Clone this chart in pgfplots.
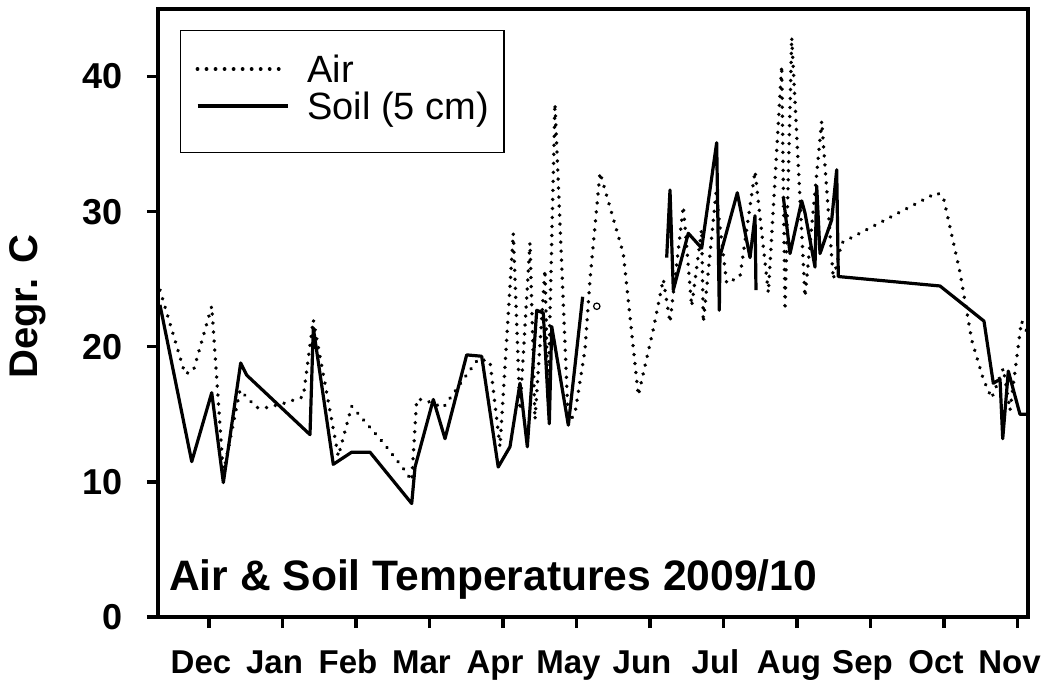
\documentclass[border=0pt]{standalone}
\usepackage{fontspec}
\setmainfont{Liberation Sans}
\usepackage{pgfplots}
\pgfplotsset{compat=1.18}
\begin{document}
\begin{tikzpicture}
\path[use as bounding box] (-79pt,-32.5pt) rectangle (444.5pt,308.5pt);
\begin{axis}[
 at={(0pt,0pt)}, anchor=south west,
 scale only axis, width=435pt, height=304pt,
 xmin=0.306, xmax=12.143, ymin=0, ymax=45,
 axis line style={line width=2.2pt},
 tick style={line width=1.6pt, black},
 tick align=outside, major tick length=5.5pt,
 xtick pos=bottom, ytick pos=left,
 xtick={1,...,12},
 xticklabels={Dec,Jan,Feb,Mar,Apr,May,Jun,Jul,Aug,Sep,Oct,Nov},
 ytick={0,10,20,30,40},
 /pgf/number format/assume math mode=true,
 xticklabel style={font=\fontsize{16.5}{18}\selectfont\bfseries, text height=11.8pt, text depth=3.5pt, xshift=-4pt, yshift=-7.5pt},
 yticklabel style={font=\fontsize{18}{20}\selectfont\bfseries, xshift=-8.5pt},
 ylabel={Degr. C},
 ylabel style={font=\fontsize{20}{22}\selectfont\bfseries, at={(axis description cs:-0.1494,0.51)}, anchor=center},
 unbounded coords=jump,
 legend style={at={(axis description cs:0.0253,0.9655)}, anchor=north west, draw=black, line width=0.6pt,
   font=\fontsize{19}{21}\selectfont, inner xsep=7.5pt, inner ysep=12.5pt, row sep=1pt,
   nodes={inner sep=0pt, text height=13.5pt, text depth=4pt},
   /tikz/every odd column/.style={column sep=9pt}},
 legend cell align=left,
 legend image code/.code={\draw[#1] (0pt,2pt) -- (45pt,2pt);},
]
\addplot[black, line width=1.9pt, line cap=round, dash pattern=on 0.01pt off 4.5pt] coordinates {
(0.333,24.2)(0.673,18.0)(0.786,18.2)(1.037,23.0)(1.195,10.6)(1.422,16.8)(1.649,15.5)(1.785,15.5)(2.011,15.8)(2.283,16.3)(2.419,22.0)(2.759,11.9)(2.941,15.6)(3.371,12.9)(3.643,11.0)(3.758,10.1)(3.826,16.1)(3.916,16.1)(4.188,15.5)(4.528,18.1)(4.664,19.1)(4.823,18.9)(4.959,12.6)(5.140,28.4)(5.231,15.3)(5.367,27.7)(5.435,14.6)(5.571,25.7)(5.612,16.1)(5.707,38.0)(5.889,14.3)(5.980,15.1)(6.116,19.8)(6.184,25.0)(6.320,32.9)(6.637,26.9)(6.841,16.4)(7.045,21.3)(7.181,25.0)(7.272,21.8)(7.453,30.4)(7.567,23.0)(7.703,28.7)(7.725,21.8)(7.898,31.4)(8.043,24.7)(8.224,25.2)(8.429,33.0)(8.610,24.0)(8.792,40.8)(8.837,22.7)(8.928,42.9)(9.109,23.7)(9.336,36.7)(9.494,25.0)(9.608,27.7)(10.901,31.4)(10.990,31.1)(11.218,25.5)(11.377,20.5)(11.535,17.6)(11.648,16.2)(11.807,18.4)(11.898,15.3)(12.054,21.9)(12.129,21.1)
};
\addlegendentry{Air}
\addplot[black, line width=1.6pt, line join=round] coordinates {
(0.333,23.1)(0.765,11.5)(1.037,16.6)(1.195,9.95)(1.431,18.8)(1.513,17.9)(2.374,13.5)(2.419,21.4)(2.691,11.3)(2.941,12.2)(3.190,12.2)(3.758,8.4)(3.803,11.1)(4.052,16.1)(4.211,13.2)(4.506,19.4)(4.710,19.3)(4.935,11.1)(5.095,12.6)(5.231,17.3)(5.331,12.6)(5.459,22.7)(5.548,22.5)(5.630,14.3)(5.663,21.5)(5.889,14.2)(6.084,23.7)(6.5,nan)(7.227,26.6)(7.272,31.6)(7.317,24.2)(7.521,28.4)(7.703,27.3)(7.907,35.1)(7.943,22.7)(7.952,26.7)(8.188,31.4)(8.361,26.6)(8.429,29.7)(8.442,24.2)(8.6,nan)(8.814,31.1)(8.905,26.9)(9.064,30.8)(9.109,29.9)(9.245,25.9)(9.268,31.9)(9.313,26.9)(9.472,29.4)(9.540,33.1)(9.562,25.2)(10.946,24.5)(11.544,21.9)(11.671,17.3)(11.762,17.6)(11.799,13.2)(11.875,18.2)(12.034,15.0)(12.129,15.0)
};
\addlegendentry{Soil (5 cm)}
\addplot[black, only marks, mark=o, mark size=1.6pt, mark options={line width=0.6pt}, forget plot] coordinates {(6.276,23.0)};
\node[anchor=base west, font=\fontsize{21.3}{24}\selectfont\bfseries] at (axis description cs:0.0046,0.0444) {Air \& Soil Temperatures 2009/10};
\end{axis}
\end{tikzpicture}
\end{document}
